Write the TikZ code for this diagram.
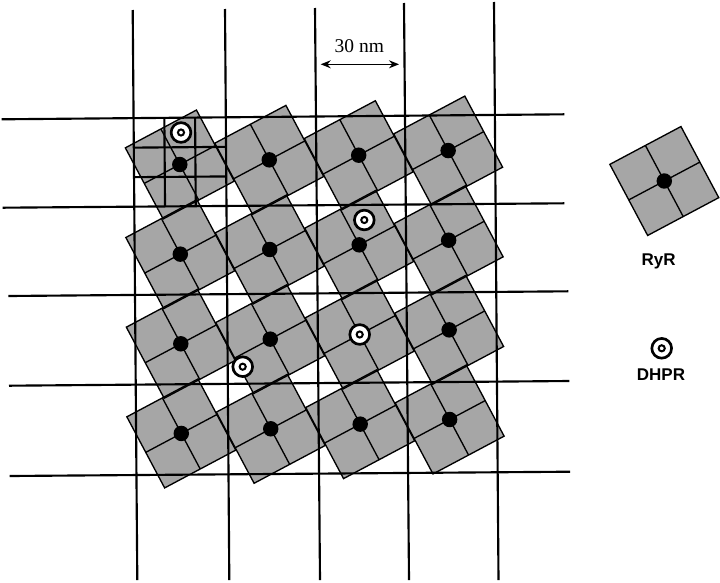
\documentclass[tikz,border=0pt]{standalone}
\usepackage{fontspec}
\setmainfont{Liberation Serif}
\newfontfamily\labelfont{Liberation Sans}
\usetikzlibrary{arrows.meta,calc}
\definecolor{ryrgray}{RGB}{166,166,166}
\begin{document}
\begin{tikzpicture}[x=0.75pt,y=-0.75pt,
  ryr/.style={rectangle, fill=ryrgray, minimum size=60.4pt, inner sep=0pt, outer sep=0pt, rotate=28},
  ryredge/.style={line width=1pt, line join=miter},
  gridline/.style={line width=1.6pt},
  ryrdot/.style={circle, fill=black, minimum size=11.6pt, inner sep=0pt},
  dhpr/.style={circle, draw=black, fill=white, line width=2pt, minimum size=14.8pt, inner sep=0pt,
    path picture={\draw[line width=1.5pt] (path picture bounding box.center) circle[radius=2.3pt];}},
  legendtext/.style={font=\labelfont\bfseries\fontsize{12.75pt}{15pt}\selectfont, anchor=base, inner sep=0pt},
  scaletext/.style={font=\fontsize{14.6pt}{17pt}\selectfont, inner sep=0pt},
  scalearrow/.style={line width=1pt, {Stealth[length=7.5pt,width=6pt]}-{Stealth[length=7.5pt,width=6pt]}}
]
\useasboundingbox (0,0) rectangle (720,582);

% RyR squares (fills)
\foreach \i in {0,...,3}{
  \foreach \j in {0,...,3}{
    \node[ryr] (r\i\j) at ({179.8+\j*89.45+\i*0.5},{164.5-\j*4.65+\i*89.65}) {};
  }
}
% RyR outlines and quadrant lines
\foreach \i in {0,...,3}{
  \foreach \j in {0,...,3}{
    \draw[ryredge] (r\i\j.north west) -- (r\i\j.north east) -- (r\i\j.south east) -- (r\i\j.south west) -- cycle
      (r\i\j.north) -- (r\i\j.south) (r\i\j.west) -- (r\i\j.east);
  }
}

% grid lines
\coordinate (v1t) at (132.7,10);  \coordinate (v1b) at (137.3,580);
\coordinate (v2t) at (225,9);     \coordinate (v2b) at (229.3,580);
\coordinate (v3t) at (315,8);     \coordinate (v3b) at (320,580);
\coordinate (v4t) at (404,3);     \coordinate (v4b) at (409,580);
\coordinate (v5t) at (494,2);     \coordinate (v5b) at (498.5,580);
\coordinate (h1l) at (1.7,119.3); \coordinate (h1r) at (564.3,114.3);
\coordinate (h2l) at (2.7,207.7); \coordinate (h2r) at (564.3,203.3);
\coordinate (h3l) at (8.3,296);   \coordinate (h3r) at (568.3,291.3);
\coordinate (h4l) at (9,385.7);   \coordinate (h4r) at (569.3,381);
\coordinate (h5l) at (9.7,476);   \coordinate (h5r) at (570,471.7);
\foreach \k in {1,...,5}{
  \draw[gridline] (v\k t) -- (v\k b);
  \draw[gridline] (h\k l) -- (h\k r);
}

% 3x3 sub-grid in the top-left cell
\coordinate (cA) at (133.6,118.1);
\coordinate (cB) at (225.8,117.3);
\coordinate (cC) at (226.5,206.0);
\coordinate (cD) at (134.3,206.7);
\draw[gridline] ($(cA)!1/3!(cB)$) -- ($(cD)!1/3!(cC)$);
\draw[gridline] ($(cA)!2/3!(cB)$) -- ($(cD)!2/3!(cC)$);
\draw[gridline] ($(cA)!1/3!(cD)$) -- ($(cB)!1/3!(cC)$);
\draw[gridline] ($(cA)!2/3!(cD)$) -- ($(cB)!2/3!(cC)$);

% RyR centre dots
\foreach \i in {0,...,3}{
  \foreach \j in {0,...,3}{
    \ifnum\i\j=22 \else \node[ryrdot] (k\i\j) at (r\i\j) {}; \fi
  }
}

% DHPRs
\node[dhpr] (d1) at (181,132.5) {};
\node[dhpr] (d2) at (364.3,220) {};
\node[dhpr] (d3) at (r22) {};
\node[dhpr] (d4) at (242.7,366.7) {};

% scale bar
\node[scaletext] (scale) at (359.3,46.5) {30 nm};
\coordinate (sa) at (320.7,64.3);
\coordinate (sb) at (399,64.3);
\draw[scalearrow] (sa) -- (sb);

% legend
\node[ryr] (legr) at (664.3,181) {};
\draw[ryredge] (legr.north west) -- (legr.north east) -- (legr.south east) -- (legr.south west) -- cycle
  (legr.north) -- (legr.south) (legr.west) -- (legr.east);
\node[ryrdot] (legk) at (legr) {};
\node[legendtext] (legrt) at (658.7,265) {RyR};
\node[dhpr] (legd) at (661.7,348.3) {};
\node[legendtext] (legdt) at (661,380) {DHPR};
\end{tikzpicture}
\end{document}
